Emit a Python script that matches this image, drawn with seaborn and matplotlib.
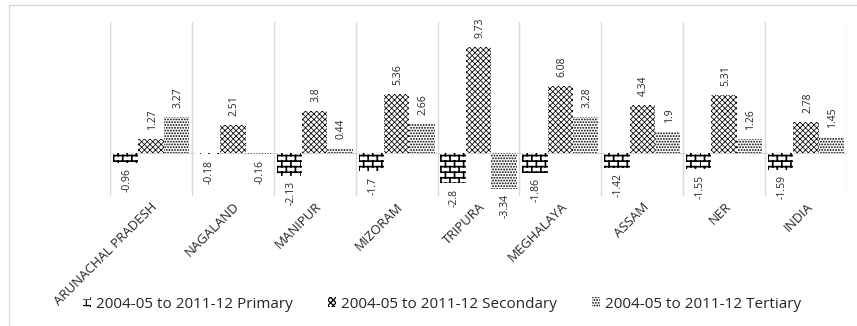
import warnings
import numpy as np
import pandas as pd
import matplotlib
matplotlib.use("Agg")
import matplotlib.pyplot as plt
from matplotlib import hatch as mhatch
from matplotlib.path import Path
from matplotlib.patches import Patch, Rectangle
import seaborn as sns

warnings.filterwarnings("ignore")

# data
states = ['ARUNACHAL PRADESH', 'NAGALAND', 'MANIPUR', 'MIZORAM', 'TRIPURA',
          'MEGHALAYA', 'ASSAM', 'NER', 'INDIA']
primary = [-0.96, -0.18, -2.13, -1.7, -2.8, -1.86, -1.42, -1.55, -1.59]
secondary = [1.27, 2.51, 3.8, 5.36, 9.73, 6.08, 4.34, 5.31, 2.78]
tertiary = [3.27, -0.16, 0.44, 2.66, -3.34, 3.28, 1.9, 1.26, 1.45]
series = ['2004-05 to 2011-12 Primary', '2004-05 to 2011-12 Secondary',
          '2004-05 to 2011-12 Tertiary']


class BrickHatch(mhatch.HatchPatternBase):
    """Staggered brick pattern, triggered by 'b' in the hatch string."""
    def __init__(self, hatch, density):
        n = hatch.count('b')
        self.rows = int(n * density) if n else 0
        if self.rows % 2:
            self.rows += 1
        self.cols = int(round(self.rows * 0.6))
        self.num_vertices = self.rows * 2 + self.rows * self.cols * 2

    def set_vertices_and_codes(self, vertices, codes):
        h = 1.0 / self.rows
        w = 1.0 / self.cols
        k = 0
        for i in range(self.rows):
            y = i * h
            vertices[k] = (0.0, y)
            vertices[k + 1] = (1.0, y)
            codes[k] = Path.MOVETO
            codes[k + 1] = Path.LINETO
            k += 2
            shift = 0.5 * w if i % 2 else 0.0
            for j in range(self.cols):
                x = j * w + shift
                vertices[k] = (x, y)
                vertices[k + 1] = (x, y + h)
                codes[k] = Path.MOVETO
                codes[k + 1] = Path.LINETO
                k += 2


mhatch._hatch_types.append(BrickHatch)

sns.set_theme(style="white")
plt.rcParams['font.family'] = ['Open Sans', 'DejaVu Sans']
plt.rcParams['hatch.linewidth'] = 0.9

df = pd.DataFrame({
    'state': states * 3,
    'period': [series[0]] * 9 + [series[1]] * 9 + [series[2]] * 9,
    'value': primary + secondary + tertiary,
})

fig = plt.figure(figsize=(8.57, 3.26), dpi=100)
ax = fig.add_axes([110 / 857, 1 - 196 / 326, 737 / 857, 174 / 326])

sns.barplot(data=df, x='state', y='value', hue='period', hue_order=series,
            palette=['white'] * 3, width=0.93, gap=0, errorbar=None,
            edgecolor='black', linewidth=0, legend=False, ax=ax)

hatches = ['bbb', 'xxxxxx', '......']
hatch_lws = [1.2, 0.55, 0.9]
text_col = '#262626'


def style_patch(p, hatch, hlw):
    p.set_hatch(hatch)
    p.set_edgecolor('black')
    p.set_linewidth(0)
    if hasattr(p, 'set_hatch_linewidth'):
        p.set_hatch_linewidth(hlw)


for cont, hatch, hlw in zip(ax.containers, hatches, hatch_lws):
    for bar in cont:
        style_patch(bar, hatch, hlw)
        val = bar.get_height()
        xc = bar.get_x() + bar.get_width() / 2
        if val >= 0:
            ax.annotate(f"{val:g}", (xc, val), xytext=(1, 6.5),
                        textcoords='offset points', rotation=90,
                        ha='center', va='bottom', fontsize=7.5, color=text_col)
        else:
            ax.annotate(f"{val:g}", (xc, val), xytext=(1, -4),
                        textcoords='offset points', rotation=90,
                        ha='center', va='top', fontsize=7.5, color=text_col)

ax.set_ylim(-4, 12)
ax.set_xlim(-0.5, len(states) - 0.5)
ax.axhline(0, color='#d0d0d0', lw=0.8, zorder=0.5)
ax.set_xticks(np.arange(-0.5, len(states)), minor=True)
ax.grid(which='minor', axis='x', color='#d9d9d9', lw=1.0)
ax.grid(which='major', visible=False)
ax.set_axisbelow(True)
ax.set_yticks([])
ax.set_xlabel('')
ax.set_ylabel('')
ax.tick_params(axis='x', which='both', length=0, pad=3)
ax.set_xticks(range(len(states)))
ax.set_xticklabels(states, rotation=45, ha='right', rotation_mode='anchor',
                   fontsize=9.5, color=text_col)
for s in ax.spines.values():
    s.set_visible(False)

handles = []
for h, hlw in zip(hatches, hatch_lws):
    p = Patch(facecolor='white', edgecolor='black', linewidth=0)
    style_patch(p, h, hlw)
    handles.append(p)
fig.legend(handles, series, loc='center', bbox_to_anchor=(442 / 857, 1 - 304 / 326),
           ncol=3, frameon=False, fontsize=11, handlelength=0.5, handleheight=0.6,
           handletextpad=0.35, columnspacing=2.3, labelcolor=text_col)

fig.patches.append(Rectangle((9 / 857, -0.05), 1.0, 1.05 - 5 / 326,
                             transform=fig.transFigure, fill=False,
                             edgecolor='#d9d9d9', lw=1.0))

fig.savefig('out.png', dpi=100)
